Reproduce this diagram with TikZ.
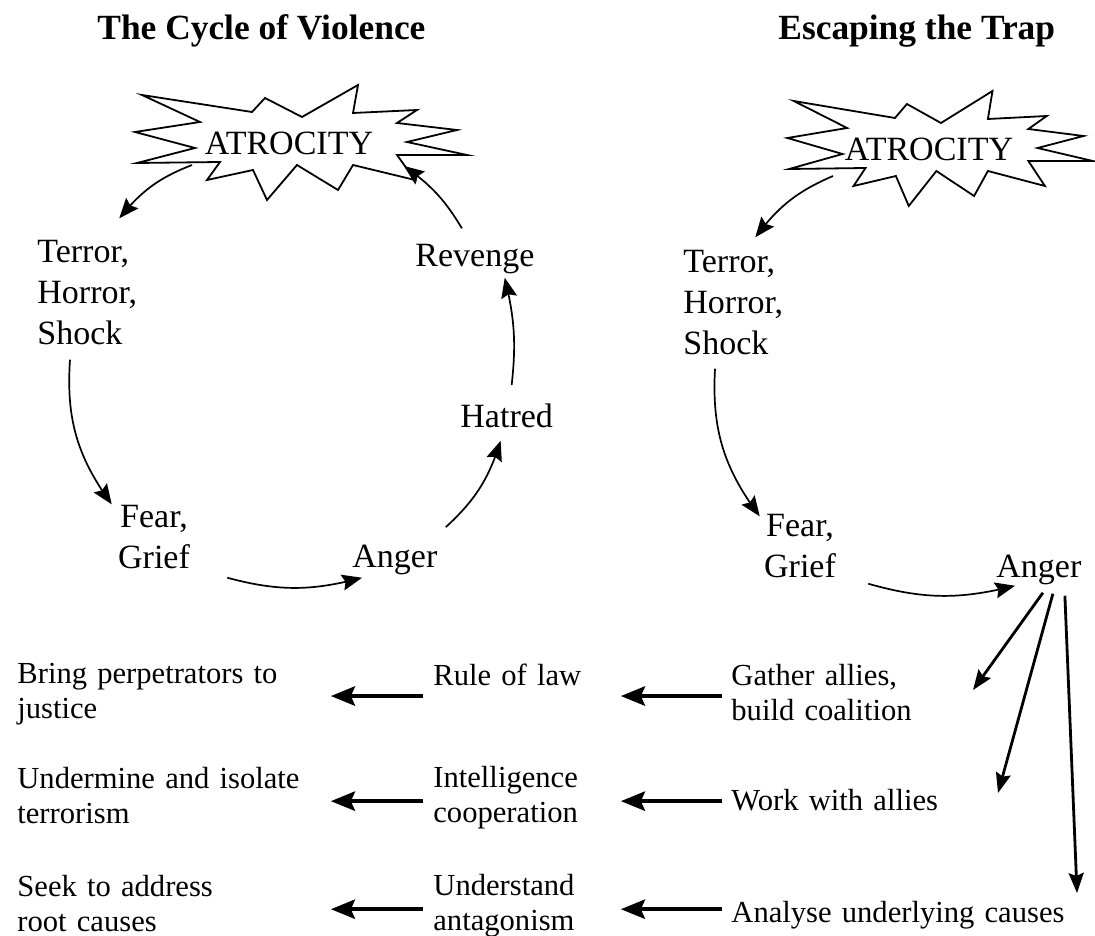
\documentclass[tikz,border=0pt]{standalone}
\usepackage{fontspec}
\setmainfont{Liberation Serif}
\usetikzlibrary{arrows.meta, bending}

\begin{document}
\begin{tikzpicture}[x=0.5pt, y=-0.5pt]
  \tikzset{
    title_text/.style={anchor=base west, inner sep=0pt, font=\fontsize{17.7}{21}\selectfont\bfseries},
    big_text/.style={anchor=base west, inner sep=0pt, align=left, font=\fontsize{17}{20.5}\selectfont},
    small_text/.style={anchor=base west, inner sep=0pt, align=left, text width=#1, font=\fontsize{15.3}{17.5}\selectfont},
    burst_line/.style={draw, line width=0.9pt, line join=miter, fill=white},
    cycle_arrow/.style={-{Stealth[length=10pt, width=8pt, inset=1.5pt]}, line width=0.85pt, bend right=#1},
    fan_arrow/.style={-{Stealth[length=10pt, width=7.5pt, inset=1.5pt]}, line width=1.4pt},
    thick_arrow/.style={-{Stealth[length=12pt, width=9.5pt, inset=2pt]}, line width=2.3pt}
  }
  \useasboundingbox (0,0) rectangle (1095,935);

  % Headings
  \node[title_text] (titleL) at (97,40) {The Cycle of Violence};
  \node[title_text] (titleR) at (778,40) {Escaping the Trap};

  % The two explosions
  \foreach \nm/\cx/\cy/\sx in {atrL/289/143/1, atrR/929/149/0.92} {
    \draw[burst_line, shift={(\cx,\cy)}, xscale=\sx]
      (-147,-48) -- (-37,-31) -- (-24,-45) -- (13,-26) -- (69,-58) -- (64,-30)
      -- (128,-33) -- (108,-20) -- (168,-13) -- (118,-1) -- (178,12) -- (108,12)
      -- (126,37) -- (64,22) -- (49,47) -- (8,22) -- (-22,57) -- (-36,27)
      -- (-82,37) -- (-69,19) -- (-152,20) -- (-94,5) -- (-154,-11) -- (-89,-21) -- cycle;
    \node[big_text, anchor=center] (\nm) at (\cx,\cy) {ATROCITY};
  }

  % Left cycle
  \node[big_text] (terL) at (37,344) {Terror,\\Horror,\\Shock};
  \node[big_text, align=center, anchor=base] (fearL) at (154,568) {Fear,\\Grief};
  \node[big_text] (angL) at (352,567) {Anger};
  \node[big_text] (hatL) at (460,427) {Hatred};
  \node[big_text] (revL) at (415,267) {Revenge};

  \draw[cycle_arrow=15] ([shift={(-97,22)}]atrL.center) to ([shift={(32,-21)}]terL.north);
  \draw[cycle_arrow=20] ([shift={(33,15)}]terL.south west) to ([shift={(-6,0)}]fearL.north west);
  \draw[cycle_arrow=15] ([shift={(37,9)}]fearL.south east) to ([shift={(10,3)}]angL.south west);
  \draw[cycle_arrow=15] ([shift={(8,-17)}]angL.north east) to ([shift={(-6,13)}]hatL.south);
  \draw[cycle_arrow=10] ([shift={(5,-18)}]hatL.north) to ([shift={(-30,3)}]revL.south east);
  \draw[cycle_arrow=12] ([shift={(-13,-16)}]revL.north) to ([shift={(115,23)}]atrL.center);

  % Right side
  \node[big_text] (terR) at (683,354) {Terror,\\Horror,\\Shock};
  \node[big_text, align=center, anchor=base] (fearR) at (800,577) {Fear,\\Grief};
  \node[big_text] (angR) at (996,577) {Anger};

  \draw[cycle_arrow=15] ([shift={(-96,27)}]atrR.center) to ([shift={(22,-12)}]terR.north);
  \draw[cycle_arrow=20] ([shift={(32,14)}]terR.south west) to ([shift={(-4,3)}]fearR.north west);
  \draw[cycle_arrow=15] ([shift={(32,6)}]fearR.south east) to ([shift={(19,1)}]angR.south west);

  % Responses
  \node[small_text=145pt] (brg) at (17,683) {Bring perpetrators to\\justice};
  \node[small_text=145pt] (undm) at (17,788) {Undermine and isolate\\terrorism};
  \node[small_text=145pt] (seek) at (17,896) {Seek to address\\root causes};
  \node[small_text=78pt] (rule) at (433,685) {Rule of law};
  \node[small_text=78pt] (intel) at (433,787) {Intelligence\\cooperation};
  \node[small_text=78pt] (undst) at (433,895) {Understand\\antagonism};
  \node[small_text=180pt] (gath) at (731,685) {Gather allies,\\build coalition};
  \node[small_text=180pt] (work) at (731,810) {Work with allies};
  \node[small_text=180pt] (anal) at (731,922) {Analyse underlying causes};

  % Fan out of anger
  \coordinate (fanA) at (973,690);
  \coordinate (fanB) at (998,793);
  \coordinate (fanC) at (1077,893);
  \draw[fan_arrow] ([shift={(4,8)}]angR.south) -- (fanA);
  \draw[fan_arrow] ([shift={(14,9)}]angR.south) -- (fanB);
  \draw[fan_arrow] ([shift={(26,11)}]angR.south) -- (fanC);

  % Horizontal arrows, one row at a time
  \foreach \rt/\md/\lf/\rw in {gath/rule/brg/gath, work/intel/undm/intel, anal/undst/seek/undst} {
    \coordinate (row) at ([yshift=-2pt]\rw.west);
    \draw[thick_arrow] ([xshift=-4.5pt]row -| \rt.west) -- ([xshift=15.5pt]row -| \md.east);
    \draw[thick_arrow] ([xshift=-5pt]row -| \md.west) -- ([xshift=11.5pt]row -| \lf.east);
  }
\end{tikzpicture}
\end{document}
